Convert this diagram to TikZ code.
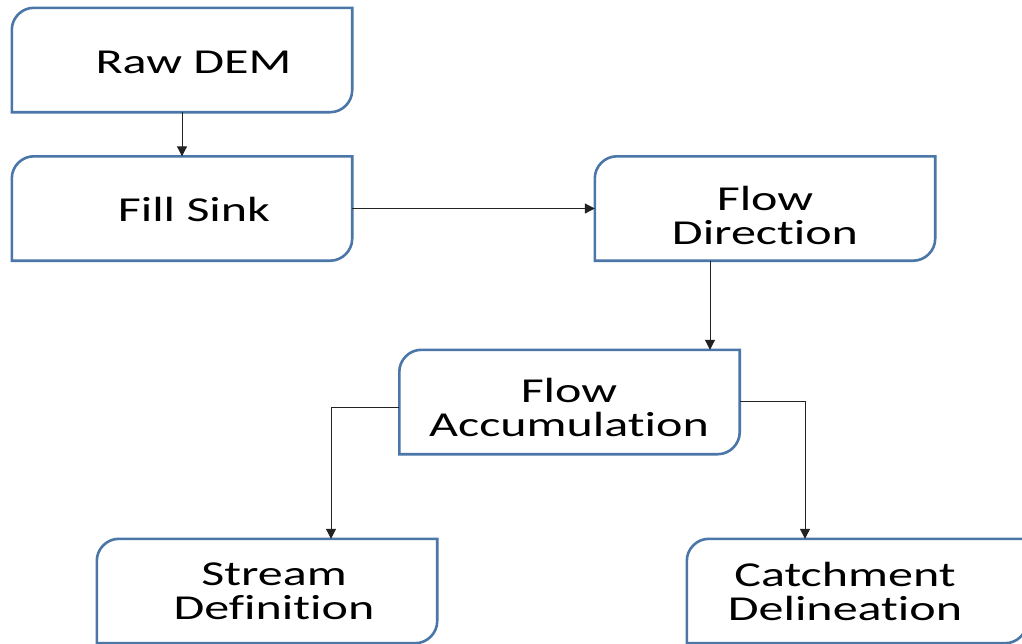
\documentclass[tikz,border=0pt]{standalone}
\usepackage{fontspec}
\setmainfont{Carlito}[FakeStretch=1.43,Ligatures={NoCommon,NoContextual}]
\usetikzlibrary{arrows.meta,calc}
\definecolor{boxblue}{HTML}{4A76A8}
\definecolor{lnk}{HTML}{222222}
\newcommand\boxoutline[1]{%
  \draw[boxline] (#1.south west) -- ($(#1.north west)+(0,22)$)
    .. controls ($(#1.north west)+(0,10)$) and ($(#1.north west)+(10,0)$) .. ($(#1.north west)+(22,0)$)
    -- (#1.north east) -- ($(#1.south east)+(0,-22)$)
    .. controls ($(#1.south east)+(0,-10)$) and ($(#1.south east)+(-10,0)$) .. ($(#1.south east)+(-22,0)$)
    -- cycle;}
\begin{document}
\begin{tikzpicture}[x=1pt,y=-1pt,
  boxnode/.style={rectangle,inner sep=0pt,minimum width=340pt,minimum height=104pt},
  boxline/.style={draw=boxblue,line width=2.6pt},
  lbl/.style={inner sep=0pt,align=center,font=\fontsize{35}{34}\selectfont},
  arr/.style={draw=lnk,line width=1pt,-{Triangle[length=10pt,width=10pt]}}]
\path[use as bounding box] (0,0) rectangle (1022,643);
\clip (0,0) rectangle (1022,643);
\fill[white] (0,0) rectangle (1022,643);
\node[boxnode] (raw) at (182,60) {};
\node[boxnode] (fill) at (182,208.5) {};
\node[boxnode] (dir) at (765,208.5) {};
\node[boxnode] (acc) at (569.5,402) {};
\node[boxnode] (stream) at (267,591) {};
\node[boxnode] (catch) at (857,591) {};
\foreach \b in {raw,fill,dir,acc,stream,catch} {\boxoutline{\b}}
\node[lbl] (rawt) at (193.5,62) {Raw DEM};
\node[lbl] (fillt) at (194,209) {Fill Sink};
\node[lbl] (dirt) at (765,215) {Flow\\Direction};
\node[lbl] (acct) at (569,407) {Flow\\Accumulation};
\node[lbl] (streamt) at (274,591.5) {Stream\\Definition};
\node[lbl] (catcht) at (845,591.5) {Catchment\\Delineation};
\draw[arr] (raw) -- (fill);
\draw[arr] (fill) -- (dir);
\draw[arr] ($(dir.south)+(-55,0)$) -- ($(acc.north)+(140.5,0)$);
\draw[arr] ($(acc.west)+(0,5)$) -| ($(stream.north)+(64,0)$);
\draw[arr] ($(acc.east)+(0,-1)$) -| ($(catch.north)+(-52,0)$);
\end{tikzpicture}
\end{document}
